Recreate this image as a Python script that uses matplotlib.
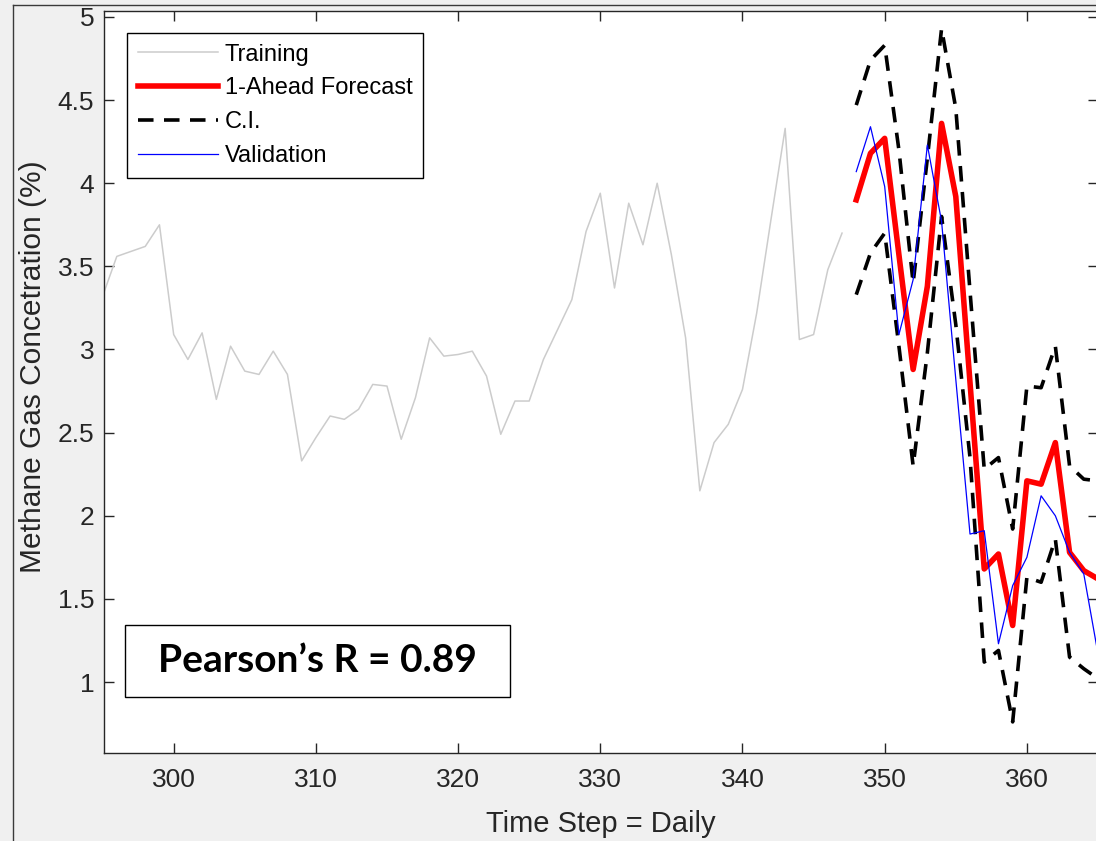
import numpy as np
import matplotlib
matplotlib.use('Agg')
import matplotlib.pyplot as plt
from matplotlib.patches import Rectangle
from matplotlib.lines import Line2D

# Data

train_x = np.arange(295, 348)
train_y = [3.32, 3.56, 3.59, 3.62, 3.75, 3.09, 2.94, 3.10, 2.70, 3.02,
           2.87, 2.85, 2.99, 2.85, 2.33, 2.47, 2.60, 2.58, 2.64, 2.79,
           2.78, 2.46, 2.71, 3.07, 2.96, 2.97, 2.99, 2.84, 2.49, 2.69,
           2.69, 2.94, 3.12, 3.30, 3.71, 3.94, 3.37, 3.88, 3.63, 4.00,
           3.57, 3.07, 2.15, 2.44, 2.55, 2.76, 3.22, 3.78, 4.33, 3.06,
           3.09, 3.48, 3.70]

fc_x = np.arange(348, 366)
forecast = [3.90, 4.18, 4.27, 3.57, 2.88, 3.38, 4.36, 3.92, 2.80, 1.68,
            1.77, 1.34, 2.21, 2.19, 2.44, 1.78, 1.67, 1.62]
validation = [4.07, 4.34, 3.98, 3.09, 3.42, 4.23, 3.77, 2.82, 1.89, 1.91,
              1.23, 1.58, 1.75, 2.12, 2.00, 1.78, 1.65, 1.17]
ci_upper = [4.47, 4.74, 4.83, 4.20, 3.40, 4.15, 4.93, 4.45, 3.35, 2.28,
            2.35, 1.92, 2.78, 2.77, 3.02, 2.30, 2.22, 2.21]
ci_lower = [3.33, 3.58, 3.70, 3.02, 2.30, 2.98, 3.80, 3.15, 2.35, 1.12,
            1.19, 0.76, 1.63, 1.60, 1.86, 1.15, 1.08, 1.02]

xticks = [300, 310, 320, 330, 340, 350, 360]
yticks = [1, 1.5, 2, 2.5, 3, 3.5, 4, 4.5, 5]
ytick_labels = ['1', '1.5', '2', '2.5', '3', '3.5', '4', '4.5', '5']

plt.rcParams['font.family'] = ['Liberation Sans', 'DejaVu Sans']

W, H = 1096, 841
fig = plt.figure(figsize=(W/100, H/100), dpi=100, facecolor='#f0f0f0')

# screenshot frame
fig.add_artist(Line2D([13/W, 13/W], [0, 1-4.5/H], transform=fig.transFigure, color='#3a3a3a', lw=1))
fig.add_artist(Line2D([13/W, 1], [1-4.5/H, 1-4.5/H], transform=fig.transFigure, color='#3a3a3a', lw=1))

ax = fig.add_axes([104/W, 1-753/H, 994/W, 742/H])
ax.set_facecolor('white')

ax.plot(train_x, train_y, color='#cccccc', lw=1.1, label='Training')
ax.plot(fc_x, forecast, color='red', lw=4, label='1-Ahead Forecast', zorder=4)
ax.plot(fc_x, ci_upper, color='black', lw=2.6, dashes=(4.3, 2.9), label='C.I.', zorder=3)
ax.plot(fc_x, ci_lower, color='black', lw=2.6, dashes=(4.3, 2.9), zorder=3)
ax.plot(fc_x, validation, color='blue', lw=0.9, label='Validation', zorder=5)

ax.set_xlim(295.1, 365)
ax.set_ylim(0.573, 5.036)
ax.set_xticks(xticks)
ax.set_yticks(yticks)
ax.set_yticklabels(ytick_labels)

ax.tick_params(direction='in', length=7, width=1, colors='#262626', labelsize=19,
               top=True, right=True)
ax.tick_params(axis='x', pad=11)
ax.tick_params(axis='y', pad=7)
for sp in ax.spines.values():
    sp.set_color('#262626')
    sp.set_linewidth(1)

ax.set_xlabel('Time Step = Daily', fontsize=21, color='#262626', labelpad=13)
ax.set_ylabel('Methane Gas Concetration (%)', fontsize=21.5, color='#262626')
ax.yaxis.set_label_coords(-0.057, 0.52)

leg = ax.legend(loc='upper left', bbox_to_anchor=(23/994, 1-22/742), fontsize=17,
                frameon=True, fancybox=False, framealpha=1, edgecolor='black',
                handlelength=3.4, handletextpad=0.3, borderpad=0.45, labelspacing=0.5,
                borderaxespad=0)
leg.get_frame().set_linewidth(1)

# Pearson box
ax.add_patch(Rectangle((21/994, 56/742), 385/994, 72/742, transform=ax.transAxes,
                       facecolor='white', edgecolor='black', lw=1, zorder=6))
ax.text(213.5/994, 92/742, 'Pearson\u2019s R = 0.89', transform=ax.transAxes,
        ha='center', va='center', fontsize=28, fontweight='bold',
        family=['Lato', 'DejaVu Sans'], color='black', zorder=7)

fig.savefig('out.png', dpi=100, facecolor=fig.get_facecolor())
